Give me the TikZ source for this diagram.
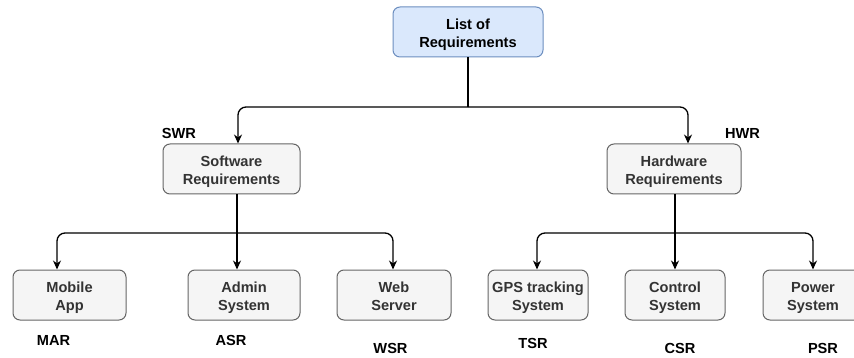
\documentclass[tikz,border=0pt]{standalone}
\usepackage{fontspec}
\setmainfont{Liberation Sans}
\usetikzlibrary{arrows.meta}
\definecolor{blueFill}{HTML}{DAE8FC}
\definecolor{blueLine}{HTML}{6C8EBF}
\definecolor{grayFill}{HTML}{F5F5F5}
\definecolor{grayLine}{HTML}{666666}
\definecolor{textGray}{HTML}{333333}
\begin{document}
\begin{tikzpicture}[x=1pt,y=-1pt,
  box/.style={draw=grayLine, fill=grayFill, rounded corners=7pt, line width=1pt,
    text=textGray, font=\bfseries\fontsize{14.6}{18.3}\selectfont, align=center,
    text height=33.3pt, text depth=2.6pt,
    minimum height=50pt, inner sep=0pt},
  rootbox/.style={box, draw=blueLine, fill=blueFill, text=black},
  tag/.style={font=\bfseries\fontsize{14.6}{17}\selectfont, text=black, inner sep=0pt},
  wire/.style={draw=black, line width=1.3pt},
  conn/.style={wire, rounded corners=8pt, -{Stealth[length=9pt,width=8pt]}}
]
\useasboundingbox (0,0) rectangle (854,358);
\clip (0,0) rectangle (854,358);

% boxes
\node[rootbox, minimum width=150pt] (root) at (468,32) {List of\\Requirements};
\node[box, minimum width=137pt] (sw) at (231.5,169) {Software\\Requirements};
\node[box, minimum width=134pt] (hw) at (674,169) {Hardware\\Requirements};
\node[box, minimum width=113pt] (ma) at (69.5,295) {Mobile\\App};
\node[box, minimum width=112pt] (as) at (244,295) {Admin\\System};
\node[box, minimum width=114pt] (ws) at (394,295) {Web\\Server};
\node[box, minimum width=100pt] (gps) at (538,295) {GPS tracking\\System};
\node[box, minimum width=100pt] (cs) at (675,295) {Control\\System};
\node[box, minimum width=100pt] (ps) at (813,295) {Power\\System};

% junction points
\coordinate (j1) at (468,107);
\coordinate (j2) at (237,233);
\coordinate (j3) at (675,233);

% top level
\draw[wire] (root.south) -- (j1);
\draw[conn] (j1) -| ([xshift=6.5pt]sw.north);
\draw[conn] (j1) -| ([xshift=14pt]hw.north);

% software branch
\draw[conn] ([xshift=5.5pt]sw.south) -- ([xshift=-7pt]as.north);
\draw[conn] (j2) -| ([xshift=-12.5pt]ma.north);
\draw[conn] (j2) -| ([xshift=-1pt]ws.north);

% hardware branch
\draw[conn] ([xshift=1pt]hw.south) -- (cs.north);
\draw[conn] (j3) -| ([xshift=-1pt]gps.north);
\draw[conn] (j3) -| (ps.north);

% short names
\node[tag] (swr) at (179,133) {SWR};
\node[tag] (hwr) at (742.5,133) {HWR};
\node[tag] (mar) at (53.5,340.5) {MAR};
\node[tag] (asr) at (231,340.5) {ASR};
\node[tag] (wsr) at (390.5,348) {WSR};
\node[tag] (tsr) at (533,343) {TSR};
\node[tag] (csr) at (680,348) {CSR};
\node[tag] (psr) at (823,348) {PSR};
\end{tikzpicture}
\end{document}
